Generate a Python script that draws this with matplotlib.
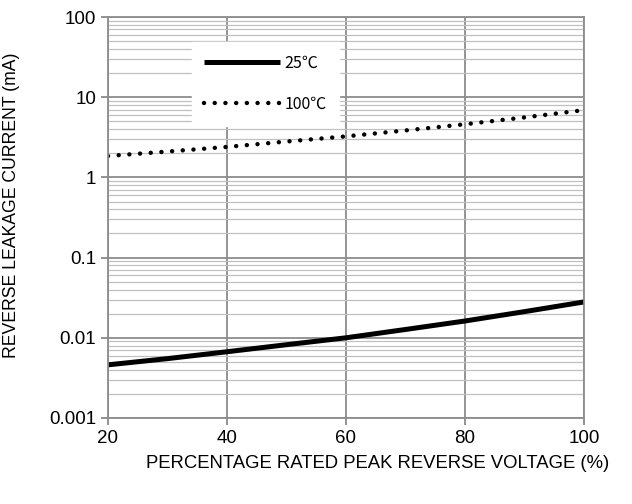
import matplotlib
matplotlib.use("Agg")
import matplotlib.pyplot as plt
from matplotlib.ticker import LogLocator, NullFormatter

# data
voltage_pct = [20, 30, 40, 50, 60, 70, 80, 90, 100]
leak_25c = [0.0046, 0.0055, 0.0067, 0.0082, 0.0100, 0.0127, 0.0162, 0.0212, 0.028]
leak_100c = [1.85, 2.1, 2.4, 2.8, 3.25, 3.85, 4.6, 5.6, 6.9]

x_ticks = [20, 40, 60, 80, 100]
y_ticks = [0.001, 0.01, 0.1, 1, 10, 100]
y_tick_labels = ["0.001", "0.01", "0.1", "1", "10", "100"]

plt.rcParams["font.family"] = ["Liberation Sans", "DejaVu Sans"]

fig = plt.figure(figsize=(6.32, 5.04), dpi=100)
ax = fig.add_axes([108 / 632, 86 / 504, 476 / 632, 401 / 504])

ax.set_yscale("log")
ax.set_xlim(20, 100)
ax.set_ylim(0.001, 100)

ax.set_xticks(x_ticks)
ax.set_yticks(y_ticks)
ax.set_yticklabels(y_tick_labels)
ax.yaxis.set_minor_locator(LogLocator(base=10, subs=range(2, 10)))
ax.yaxis.set_minor_formatter(NullFormatter())
ax.tick_params(axis="both", which="major", labelsize=13.5, color="#808080", length=5, width=1.2)
ax.tick_params(axis="y", which="minor", length=0)

ax.grid(True, which="major", color="#8c8c8c", linewidth=1.3)
ax.grid(True, which="minor", axis="y", color="#c0c0c0", linewidth=0.9)
ax.set_axisbelow(True)
for s in ax.spines.values():
    s.set_color("#8c8c8c")
    s.set_linewidth(1.3)

ax.plot(voltage_pct, leak_25c, color="black", linewidth=3.6, solid_capstyle="butt", label="25℃")
ax.plot(voltage_pct, leak_100c, color="black", linewidth=3.2, linestyle=(0, (0.01, 2.4)),
        dash_capstyle="round", label="100℃")

leg = ax.legend(loc="upper left", bbox_to_anchor=(0.159, 0.957), frameon=True, fancybox=False,
                edgecolor="white", facecolor="white", framealpha=1, handlelength=4.7,
                labelspacing=1.5, borderpad=0.8, handletextpad=0.3,
                prop={"family": ["Noto Sans CJK SC", "DejaVu Sans"], "size": 11.5})

fig.text(12 / 632, 1 - 205 / 504, "REVERSE LEAKAGE CURRENT (mA)", rotation=90,
         ha="center", va="center", fontsize=12.7)
fig.text(378 / 632, 1 - 463 / 504, "PERCENTAGE RATED PEAK REVERSE VOLTAGE (%)",
         ha="center", va="center", fontsize=13.3)

fig.savefig("out.png", dpi=100)
